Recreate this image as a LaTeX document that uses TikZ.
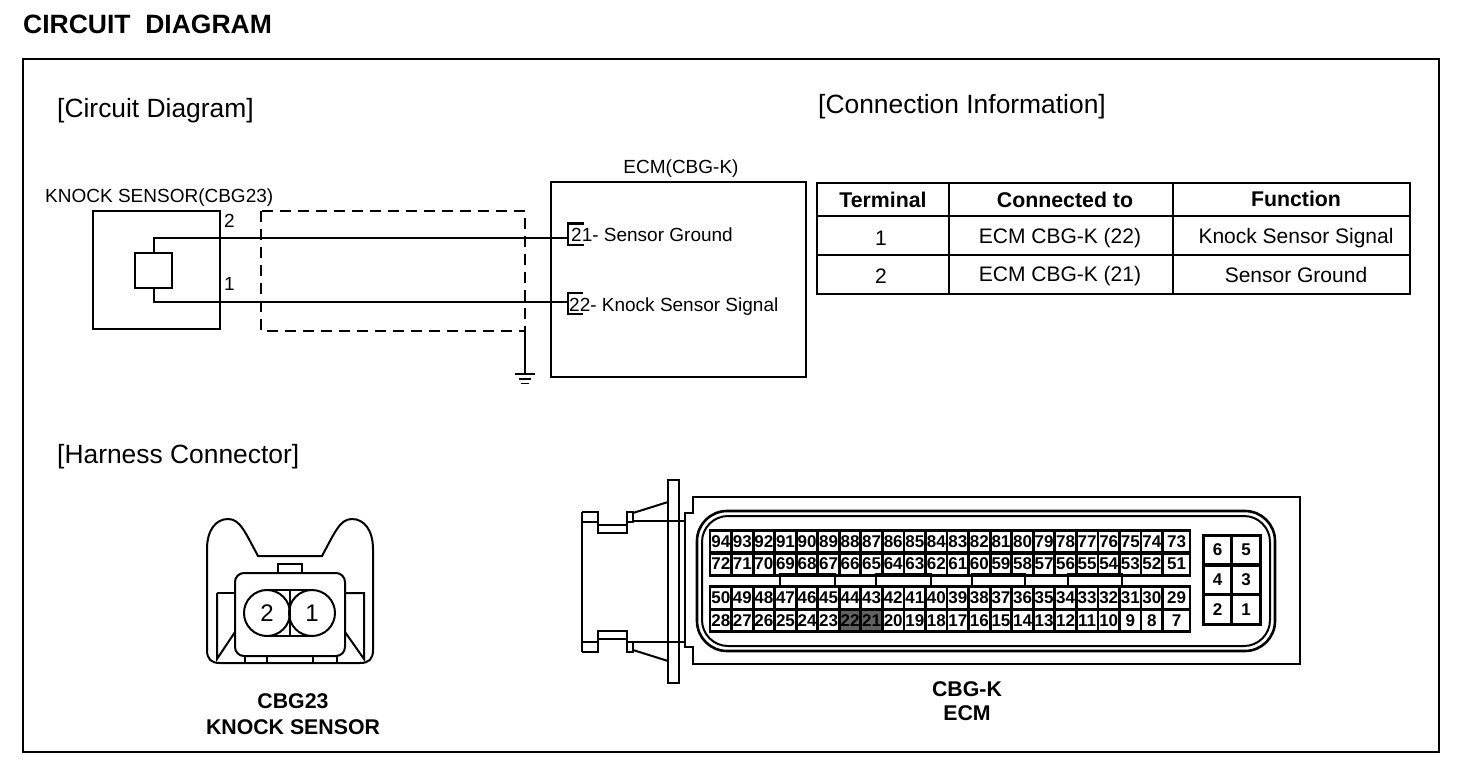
\documentclass[tikz,border=0pt]{standalone}
\usepackage{fontspec}
\setmainfont{Liberation Sans}
\begin{document}
\begin{tikzpicture}[x=1pt,y=-1pt,line join=miter,
  thickline/.style={line width=2.8pt},
  medline/.style={line width=2pt},
  heavyline/.style={line width=2.6pt},
  thinline/.style={line width=1.3pt},
  heading/.style={font=\fontsize{26.4}{28}\selectfont,inner sep=0pt,anchor=west},
  label/.style={font=\fontsize{19}{21}\selectfont,inner sep=0pt},
  cellval/.style={font=\fontsize{21}{23}\selectfont,inner sep=0pt},
  tablehead/.style={font=\bfseries\fontsize{21.3}{23}\selectfont,inner sep=0pt},
  caption/.style={font=\bfseries\fontsize{21.3}{24}\selectfont,inner sep=0pt,align=center},
  pinbox/.style={draw,thickline,inner sep=0pt,font=\bfseries\fontsize{17}{17}\selectfont}]
\useasboundingbox (0,0) rectangle (1472,776);
\fill[white] (0,0) rectangle (1472,776);
\node[anchor=west,inner sep=0pt,font=\bfseries\fontsize{26.5}{28}\selectfont] (title) at (23,24) {CIRCUIT\ \ DIAGRAM};
\draw[thinline] (23,59) rectangle (1439,752);
\node[heading] (h1) at (57,110.5) {[Circuit Diagram]};
\node[heading] (h2) at (818,107) {[Connection Information]};
\node[heading] (h3) at (57,457) {[Harness Connector]};

% circuit
\node[label,anchor=west] (ks) at (45,197.5) {KNOCK SENSOR(CBG23)};
\node[draw,heavyline,minimum width=127pt,minimum height=118pt,inner sep=0pt] (sensor) at (156.5,270) {};
\node[draw,heavyline,minimum width=37pt,minimum height=35pt,inner sep=0pt] (elem) at (153.5,270.5) {};
\node[label,anchor=west] (t2) at (224,221) {2};
\node[label,anchor=west] (t1) at (224,284) {1};
\node[label] (ecml) at (681,169) {ECM(CBG-K)};
\node[draw,thinline,minimum width=255pt,minimum height=195pt,inner sep=0pt] (ecm) at (678.5,279.5) {};
\draw[heavyline] (551,182) -- (551,377);
\draw[thinline,dash pattern=on 11pt off 7pt] (261,211) rectangle (525,331);
\coordinate (shieldb) at (525,331);
\coordinate (gnd) at (525,374);
\draw[thinline] (shieldb) -- (gnd);
\draw[thinline] (515,374) -- (535,374) (519,379) -- (531,379);
\draw[line width=1.8pt] (521,383.5) -- (529,383.5);
\node[label,anchor=west] (p21) at (571,235) {21- Sensor Ground};
\node[label,anchor=west] (p22) at (569,307) {22- Knock Sensor Signal};
\coordinate (p21a) at (567,238);
\coordinate (p22a) at (567,302);
\draw[medline] (elem.north) -- (153.5,238) -- (p21a);
\draw[medline] (elem.south) -- (153.5,302) -- (p22a);
\draw[heavyline] (584,223.5) -- (568,223.5) -- (568,245) -- (584,245);
\draw[medline] (583,293) -- (568,293) -- (568,314) -- (583,314);

% table
\draw[heavyline] (817,183) rectangle (1410,294);
\draw[heavyline] (817,216) -- (1410,216) (817,255) -- (1410,255);
\draw[medline] (949,183) -- (949,294) (1173,183) -- (1173,294);
\node[tablehead] (th1) at (883,200) {Terminal};
\node[tablehead] (th2) at (1065,200) {Connected to};
\node[tablehead] (th3) at (1296,199) {Function};
\node[cellval] (a1) at (881,238) {1};
\node[cellval] (a2) at (1060,238) {ECM CBG-K (22)};
\node[cellval] (a3) at (1296,238) {Knock Sensor Signal};
\node[cellval] (b1) at (881,276) {2};
\node[cellval] (b2) at (1060,276) {ECM CBG-K (21)};
\node[cellval] (b3) at (1296,275) {Sensor Ground};

% sensor connector
\draw[medline] (217,593) -- (217,659) -- (235,632);
\draw[medline] (235,593) -- (217,593);
\draw[medline] (345,593) -- (364,593) -- (364,659) -- (345,632);
\draw[medline] (207,650) -- (207,549) .. controls (207,530) and (216,519) .. (228,519)
  .. controls (240,519) and (245,532) .. (258,556) -- (322,556)
  .. controls (335,532) and (340,519) .. (352,519)
  .. controls (364,519) and (373,530) .. (373,549) -- (373,650)
  .. controls (373,659) and (369,663) .. (360,663) -- (220,663)
  .. controls (211,663) and (207,659) .. (207,650) -- cycle;
\draw[medline] (278,573) -- (278,564) -- (302,564) -- (302,573);
\draw[medline] (245,656) -- (245,663) (267,656) -- (267,663) (313,656) -- (313,663) (337,656) -- (337,663);
\draw[medline,fill=white,rounded corners=9pt] (235,573) rectangle (345,656);
\draw[medline] (268,590) -- (312,590) (268,636) -- (312,636);
\node[draw,medline,circle,fill=white,minimum size=46pt,inner sep=0pt,font=\fontsize{24}{24}\selectfont] (c2) at (267,613) {2};
\node[draw,medline,circle,fill=white,minimum size=46pt,inner sep=0pt,font=\fontsize{24}{24}\selectfont] (c1) at (312,613) {1};
\draw[medline] (290,590) -- (290,636);
\node[caption] (cap1) at (293,714) {CBG23\\[2pt]KNOCK SENSOR};

% ECM connector: body
\draw[medline] (693,513) -- (693,497) -- (1300,497) -- (1300,664) -- (693,664) -- (693,647) -- (685,647) -- (685,513) -- cycle;
\draw[heavyline,rounded corners=30pt] (697,511) rectangle (1275,651);
\draw[medline,rounded corners=26pt] (702,516) rectangle (1270,646);
% plate and plug
\draw[medline] (668,480) rectangle (679,683);
\draw[medline] (633,521) -- (685,521) (633,642) -- (685,642);
\draw[medline] (633,513) -- (668,502) (633,650) -- (668,661);
\draw[medline] (582,522) -- (598,522) (582,642) -- (598,642);
\draw[medline] (582,512) -- (598,512) -- (598,533) -- (627,533) -- (627,512) -- (633,512) -- (633,522) -- (627,522);
\draw[medline] (598,525) -- (627,525) (598,639) -- (627,639);
\draw[medline] (582,652) -- (598,652) -- (598,631) -- (627,631) -- (627,652) -- (633,652) -- (633,642) -- (627,642);
\draw[medline] (582,512) -- (582,652);

% slots
\foreach \xa/\xb in {780/835,876/931,972/1025,1068/1122}
  \draw[medline] (\xa,574) rectangle (\xb,586);
% pin grid
\fill[black!62] (841,609) rectangle (884,632);
\foreach \rowy/\rowstart in {542/94,564/72,598/50,620.5/28}{
  \foreach \i in {0,...,21}{
    \pgfmathtruncatemacro{\n}{\rowstart-\i}
    \pgfmathsetmacro{\cx}{\i<21 ? 720.8+\i*21.55 : 1176.5}
    \pgfmathsetmacro{\cw}{\i<21 ? 21.55 : 27}
    \node[pinbox,minimum width=\cw pt,minimum height=22.5pt] (pin\n) at (\cx,\rowy) {\n};
  }
}
\foreach \a/\x/\y in {6/1217.5/550,5/1246/550,4/1217.5/580,3/1246/580,2/1217.5/609.5,1/1246/609.5}
  \node[pinbox,minimum width=28.5pt,minimum height=29.6pt] (sm\a) at (\x,\y) {\a};
\node[caption] (cap2) at (967,701) {CBG-K\\ECM};
\end{tikzpicture}
\end{document}
